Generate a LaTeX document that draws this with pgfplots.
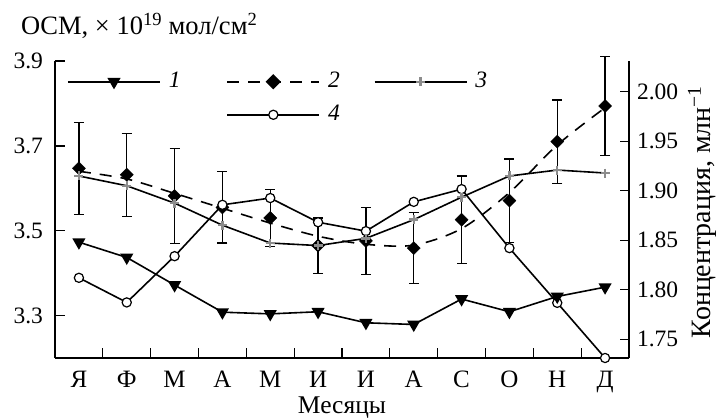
\documentclass[border=0pt]{standalone}
\usepackage{fontspec}
\setmainfont{Liberation Serif}
\usepackage{pgfplots}
\pgfplotsset{compat=1.18}
\definecolor{plusgray}{RGB}{140,140,140}
\begin{document}
\fontsize{23.5}{28}\selectfont
\begin{tikzpicture}[font=\fontsize{23.5}{28}\selectfont]
\begin{axis}[
 scale only axis, width=574pt, height=297pt,
 xmin=-0.5, xmax=11.5, ymin=3.2, ymax=3.9,
 axis x line*=bottom, axis y line*=left,
 axis line style={line width=1.3pt},
 tick align=inside,
 major tick length=10pt,
 tick style={line width=1.3pt, black},
 xtick={0.5,1.5,...,10.5}, xticklabels={},
 extra x ticks={0,1,2,3,4,5,6,7,8,9,10,11},
 extra x tick labels={Я,Ф,М,А,М,И,И,А,С,О,Н,Д},
 extra x tick style={major tick length=0pt, xticklabel style={anchor=base, yshift=-30pt, font=\fontsize{25}{30}\selectfont}},
 ytick={3.3,3.5,3.7,3.9},
 yticklabel style={/pgf/number format/.cd, fixed, fixed zerofill, precision=1, /tikz/.cd, xshift=-4pt},
 /pgf/number format/assume math mode=true,
 clip=false,
 xlabel={Месяцы},
 xlabel style={at={(axis description cs:0.5,0)}, anchor=base, yshift=-56pt, font=\fontsize{25.5}{30}\selectfont},
 legend columns=3,
 legend cell align=left,
 legend style={at={(axis description cs:0,1)}, anchor=north west, xshift=9pt, yshift=-7pt, draw=none, fill=none, column sep=0pt, row sep=10pt, font=\fontsize{23.5}{28}\selectfont},
 legend image code/.code={\draw[mark repeat=2,mark phase=2,#1] plot coordinates {(0pt,0pt) (46pt,0pt) (92pt,0pt)};},
]
\coordinate (O) at (rel axis cs:0,0);
% fitted curve for series 2
\addplot[forget plot, smooth, line width=1.6pt, black, dash pattern=on 12pt off 9pt] coordinates {
(0,3.640)(1,3.622)(2,3.588)(3,3.553)(4,3.518)(5,3.487)(6,3.468)(7,3.466)(8,3.505)(9,3.590)(10,3.702)(11,3.790)};
% series 2 with error bars
\addplot[forget plot, only marks, black, mark=square*, mark size=4.6pt, mark options={rotate=45, fill=black},
 error bars/.cd, y dir=both, y explicit, error bar style={line width=1.2pt, black}, error mark=-, error mark options={rotate=90, mark size=5pt, line width=1.2pt, black}]
 coordinates {
(0,3.647) +- (0,0.108)
(1,3.632) +- (0,0.098)
(2,3.582) +- (0,0.112)
(3,3.555) +- (0,0.084)
(4,3.530) +- (0,0.068)
(5,3.465) +- (0,0.065)
(6,3.476) +- (0,0.079)
(7,3.459) +- (0,0.084)
(8,3.526) +- (0,0.103)
(9,3.571) +- (0,0.098)
(10,3.710) +- (0,0.098)
(11,3.794) +- (0,0.116)};
% series 4
\addplot[forget plot, line width=1.6pt, black, mark=*, mark size=4.6pt, mark options={fill=white, line width=1.2pt}] coordinates {
(0,3.389)(1,3.331)(2,3.440)(3,3.561)(4,3.577)(5,3.520)(6,3.499)(7,3.568)(8,3.598)(9,3.459)(10,3.330)(11,3.200)};
% series 3
\addplot[forget plot, line width=1.6pt, black, mark=+, mark size=4.5pt, mark options={plusgray, line width=2.4pt}] coordinates {
(0,3.629)(1,3.606)(2,3.565)(3,3.513)(4,3.471)(5,3.465)(6,3.482)(7,3.526)(8,3.579)(9,3.629)(10,3.643)(11,3.636)};
% series 1
\addplot[forget plot, line width=1.6pt, black, mark=triangle*, mark size=6pt, mark options={rotate=180}] coordinates {
(0,3.473)(1,3.437)(2,3.372)(3,3.308)(4,3.304)(5,3.309)(6,3.283)(7,3.279)(8,3.339)(9,3.309)(10,3.345)(11,3.367)};
\addlegendimage{line width=1.6pt, black, mark=triangle*, mark size=6pt, mark options={rotate=180}}
\addlegendentry{\hspace*{6pt}\textit{1}\hspace*{44pt}}
\addlegendimage{line width=1.6pt, black, dash pattern=on 12pt off 9pt, mark=square*, mark size=4.6pt, mark options={rotate=45, solid, fill=black}}
\addlegendentry{\hspace*{6pt}\textit{2}\hspace*{32pt}}
\addlegendimage{line width=1.6pt, black, mark=+, mark size=4.5pt, mark options={plusgray, line width=2.4pt}}
\addlegendentry{\hspace*{6pt}\textit{3}}
\addlegendimage{empty legend}
\addlegendentry{}
\addlegendimage{line width=1.6pt, black, mark=*, mark size=4.6pt, mark options={fill=white, line width=1.2pt}}
\addlegendentry{\hspace*{6pt}\textit{4}}
\end{axis}
\begin{axis}[
 scale only axis, width=574pt, height=297pt,
 xmin=-0.5, xmax=11.5, ymin=1.731, ymax=2.031,
 axis x line=none, axis y line*=right,
 axis line style={line width=1.3pt},
 tick align=inside, major tick length=9pt,
 tick style={line width=1.3pt, black},
 ytick={1.75,1.80,1.85,1.90,1.95,2.00},
 yticklabel style={/pgf/number format/.cd, fixed, fixed zerofill, precision=2},
 /pgf/number format/assume math mode=true,
]
\end{axis}
\node[anchor=base west, font=\fontsize{26.5}{31}\selectfont] at ([shift={(-42pt,323pt)}]O) {ОСМ, × 10\textsuperscript{19} мол/см\textsuperscript{2}};
\node[rotate=90, anchor=base, font=\fontsize{28}{32}\selectfont] at ([shift={(655pt,146pt)}]O) {Концентрация, млн\textsuperscript{−1}};
\pgfresetboundingbox
\path[use as bounding box] ([shift={(-55pt,-60pt)}]O) rectangle ++(716pt,418pt);
\end{tikzpicture}
\end{document}
